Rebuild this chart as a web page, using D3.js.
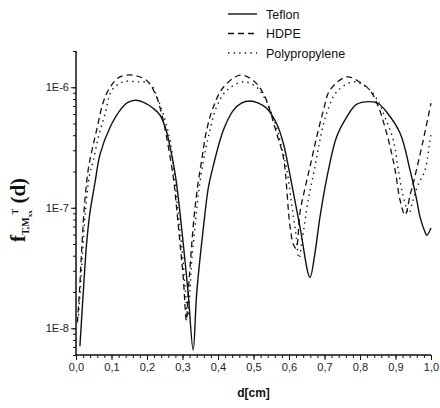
<!DOCTYPE html>
<html><head><meta charset="utf-8">
<script src="https://cdn.jsdelivr.net/npm/d3@7"></script>
<style>body{margin:0;background:#fff}svg{display:block}</style>
</head><body>
<script>
// ---- data ----
const seriesNames = ["Teflon", "HDPE", "Polypropylene"];
const xTicks = [0, 0.1, 0.2, 0.3, 0.4, 0.5, 0.6, 0.7, 0.8, 0.9, 1.0];
const yTicks = [1e-8, 1e-7, 1e-6];

const teflonD = [0.011,0.021,0.030,0.039,0.054,0.068,0.096,0.124,0.145,0.168,0.192,0.217,0.237,0.254,0.268,0.282,0.302,0.316,0.330,0.340,0.359,0.373,0.387,0.415,0.443,0.466,0.490,0.514,0.537,0.565,0.584,0.603,0.631,0.659,0.673,0.687,0.711,0.734,0.763,0.790,0.828,0.852,0.875,0.913,0.941,0.960,0.969,0.983,0.988,1.0];
const teflonV = [7.1e-9,2.1e-8,5.1e-8,9.0e-8,1.65e-7,2.8e-7,4.66e-7,6.44e-7,7.45e-7,7.8e-7,7.45e-7,6.7e-7,5.86e-7,4.4e-7,2.89e-7,1.69e-7,5.07e-8,1.95e-8,6.6e-9,1.95e-8,6.9e-8,1.48e-7,2.25e-7,4.4e-7,6.44e-7,7.4e-7,7.7e-7,7.4e-7,6.7e-7,5.0e-7,3.43e-7,1.86e-7,6.9e-8,2.65e-8,4.19e-8,8.3e-8,2.05e-7,3.87e-7,5.68e-7,7.2e-7,7.6e-7,7.3e-7,6.24e-7,4.15e-7,2.05e-7,1.15e-7,8.4e-8,6.3e-8,5.9e-8,6.8e-8];

const hdpeD = [0.004,0.010,0.017,0.025,0.035,0.045,0.058,0.077,0.096,0.124,0.161,0.199,0.223,0.241,0.255,0.274,0.284,0.293,0.302,0.311,0.316,0.330,0.340,0.354,0.368,0.387,0.415,0.462,0.499,0.528,0.546,0.565,0.584,0.603,0.613,0.620,0.631,0.645,0.659,0.678,0.697,0.715,0.763,0.800,0.828,0.852,0.870,0.885,0.899,0.913,0.927,0.941,0.952,0.978,1.0];
const hdpeV = [1.12e-8,2.07e-8,5.1e-8,1.15e-7,2.13e-7,3.0e-7,4.4e-7,7.55e-7,1.0e-6,1.22e-6,1.26e-6,1.14e-6,8.87e-7,6.08e-7,3.87e-7,1.8e-7,9.5e-8,5.07e-8,2.67e-8,1.16e-8,1.95e-8,6.93e-8,1.32e-7,2.48e-7,4.4e-7,6.87e-7,1.0e-6,1.26e-6,1.14e-6,8.87e-7,6.44e-7,4.15e-7,2.64e-7,6.93e-8,4.9e-8,4.6e-8,9.2e-8,1.45e-7,2.18e-7,3.87e-7,6.44e-7,9.44e-7,1.22e-6,1.1e-6,9.44e-7,6.87e-7,4.69e-7,3.2e-7,2.05e-7,1.15e-7,8.7e-8,1.27e-7,1.69e-7,3.63e-7,7.4e-7];

const ppD = [0.007,0.013,0.020,0.028,0.038,0.049,0.063,0.082,0.101,0.133,0.171,0.208,0.232,0.251,0.265,0.276,0.287,0.299,0.308,0.315,0.321,0.326,0.335,0.345,0.359,0.373,0.396,0.425,0.471,0.509,0.537,0.561,0.579,0.594,0.608,0.620,0.628,0.637,0.654,0.673,0.687,0.706,0.734,0.781,0.819,0.847,0.870,0.894,0.908,0.921,0.938,0.949,0.963,0.983,0.997,1.0];
const ppV = [1.28e-8,2.28e-8,5.07e-8,1.05e-7,1.86e-7,2.48e-7,3.87e-7,6.05e-7,9.44e-7,1.11e-6,1.11e-6,1.07e-6,7.8e-7,5.32e-7,3.63e-7,2.05e-7,9.5e-8,4.44e-8,2.07e-8,1.26e-8,2.07e-8,3.66e-8,6.89e-8,1.32e-7,2.48e-7,3.87e-7,6.87e-7,9.44e-7,1.11e-6,1.0e-6,7.55e-7,5.02e-7,3.2e-7,2.05e-7,1.05e-7,5.9e-8,3.81e-8,5.37e-8,1.15e-7,2.18e-7,3.63e-7,6.08e-7,9.14e-7,1.11e-6,1.0e-6,8.05e-7,5.68e-7,3.63e-7,2.05e-7,1.27e-7,9.0e-8,1.15e-7,1.54e-7,2.05e-7,3.63e-7,4.0e-7];

// ---- layout ----
const W = 440, H = 408;
const m = {left: 76, right: 9, top: 51, bottom: 53};
const svg = d3.select("body").append("svg").attr("width", W).attr("height", H);

const x = d3.scaleLinear().domain([0, 1]).range([m.left, W - m.right]);
const y = d3.scaleLog().domain([6e-9, 2e-6]).range([H - m.bottom, m.top]);

const fmtX = d => d3.format(".1f")(d).replace(".", ",");
const fmtY = d => "1E" + Math.round(Math.log10(d));

// minor ticks
const xMinor = d3.range(0, 1.0001, 0.02).map(v => +v.toFixed(2));
const yMinor = [];
[-9, -8, -7, -6].forEach(e => { for (let k = 1; k <= 9; k++) { const v = k * Math.pow(10, e); if (v >= 6e-9 - 1e-20 && v <= 2e-6 + 1e-20) yMinor.push(v); } });

const ax = svg.append("g").attr("font-family", "'Liberation Sans', Arial, sans-serif");

// x axis
const gx = ax.append("g").attr("transform", `translate(0,${H - m.bottom})`);
gx.call(d3.axisBottom(x).tickValues(xMinor).tickSize(3).tickFormat(""));
gx.call(g => g.select(".domain").remove());
const gx2 = ax.append("g").attr("transform", `translate(0,${H - m.bottom})`);
gx2.call(d3.axisBottom(x).tickValues(xTicks).tickSize(5).tickPadding(3).tickFormat(fmtX));

// y axis
const gy = ax.append("g").attr("transform", `translate(${m.left},0)`);
gy.call(d3.axisLeft(y).tickValues(yMinor).tickSize(3).tickFormat(""));
gy.call(g => g.select(".domain").remove());
const gy2 = ax.append("g").attr("transform", `translate(${m.left},0)`);
gy2.call(d3.axisLeft(y).tickValues(yTicks).tickSize(5).tickPadding(2).tickFormat(fmtY));

ax.selectAll(".domain").attr("stroke", "#111").attr("stroke-width", 1.5);
ax.selectAll(".tick line").attr("stroke", "#111").attr("stroke-width", 1);
ax.selectAll(".tick text").attr("font-size", 11).attr("fill", "#222");
gx2.selectAll(".domain").attr("d", `M${m.left},0H${W - m.right}`);
gy2.selectAll(".domain").attr("d", `M0,${H - m.bottom}V${m.top}`);

// lines
const series = [
  {name: seriesNames[0], d: teflonD, v: teflonV, dash: null, w: 1.4},
  {name: seriesNames[1], d: hdpeD, v: hdpeV, dash: "6,4", w: 1.3},
  {name: seriesNames[2], d: ppD, v: ppV, dash: "1.4,4.2", w: 1.4}
];
const line = d3.line().x(p => x(p[0])).y(p => y(p[1])).curve(d3.curveCatmullRom.alpha(0.5));
series.forEach(s => {
  svg.append("path")
    .datum(s.d.map((dd, i) => [dd, s.v[i]]))
    .attr("d", line).attr("fill", "none").attr("stroke", "#111")
    .attr("stroke-width", s.w).attr("stroke-dasharray", s.dash);
});

// legend
const lg = svg.append("g").attr("font-family", "'Liberation Sans', Arial, sans-serif");
series.forEach((s, i) => {
  const yy = 14 + i * 19.5;
  lg.append("line").attr("x1", 228).attr("x2", 257).attr("y1", yy).attr("y2", yy)
    .attr("stroke", "#111").attr("stroke-width", s.w).attr("stroke-dasharray", s.dash);
  lg.append("text").attr("x", 266).attr("y", yy + 4.5).attr("font-size", 12.5).attr("fill", "#111").text(s.name);
});

// axis titles
svg.append("text").attr("x", (m.left + W - m.right) / 2).attr("y", 397)
  .attr("text-anchor", "middle").attr("font-family", "'Liberation Sans', Arial, sans-serif")
  .attr("font-weight", "bold").attr("font-size", 12).attr("fill", "#111").text("d[cm]");

const yl = svg.append("text")
  .attr("transform", "translate(25,210) rotate(-90)")
  .attr("text-anchor", "middle")
  .attr("font-family", "'Liberation Serif', 'Times New Roman', serif")
  .attr("font-weight", "bold").attr("fill", "#111");
yl.append("tspan").attr("font-size", 21).text("f");
yl.append("tspan").attr("font-size", 10).attr("dy", 4).text("T,M");
yl.append("tspan").attr("font-size", 7).attr("dy", 3).text("xx");
yl.append("tspan").attr("font-size", 8).attr("dy", -14).attr("dx", -4).text("T");
yl.append("tspan").attr("font-size", 21).attr("dy", 7).text(" (d)");
</script>
</body></html>
